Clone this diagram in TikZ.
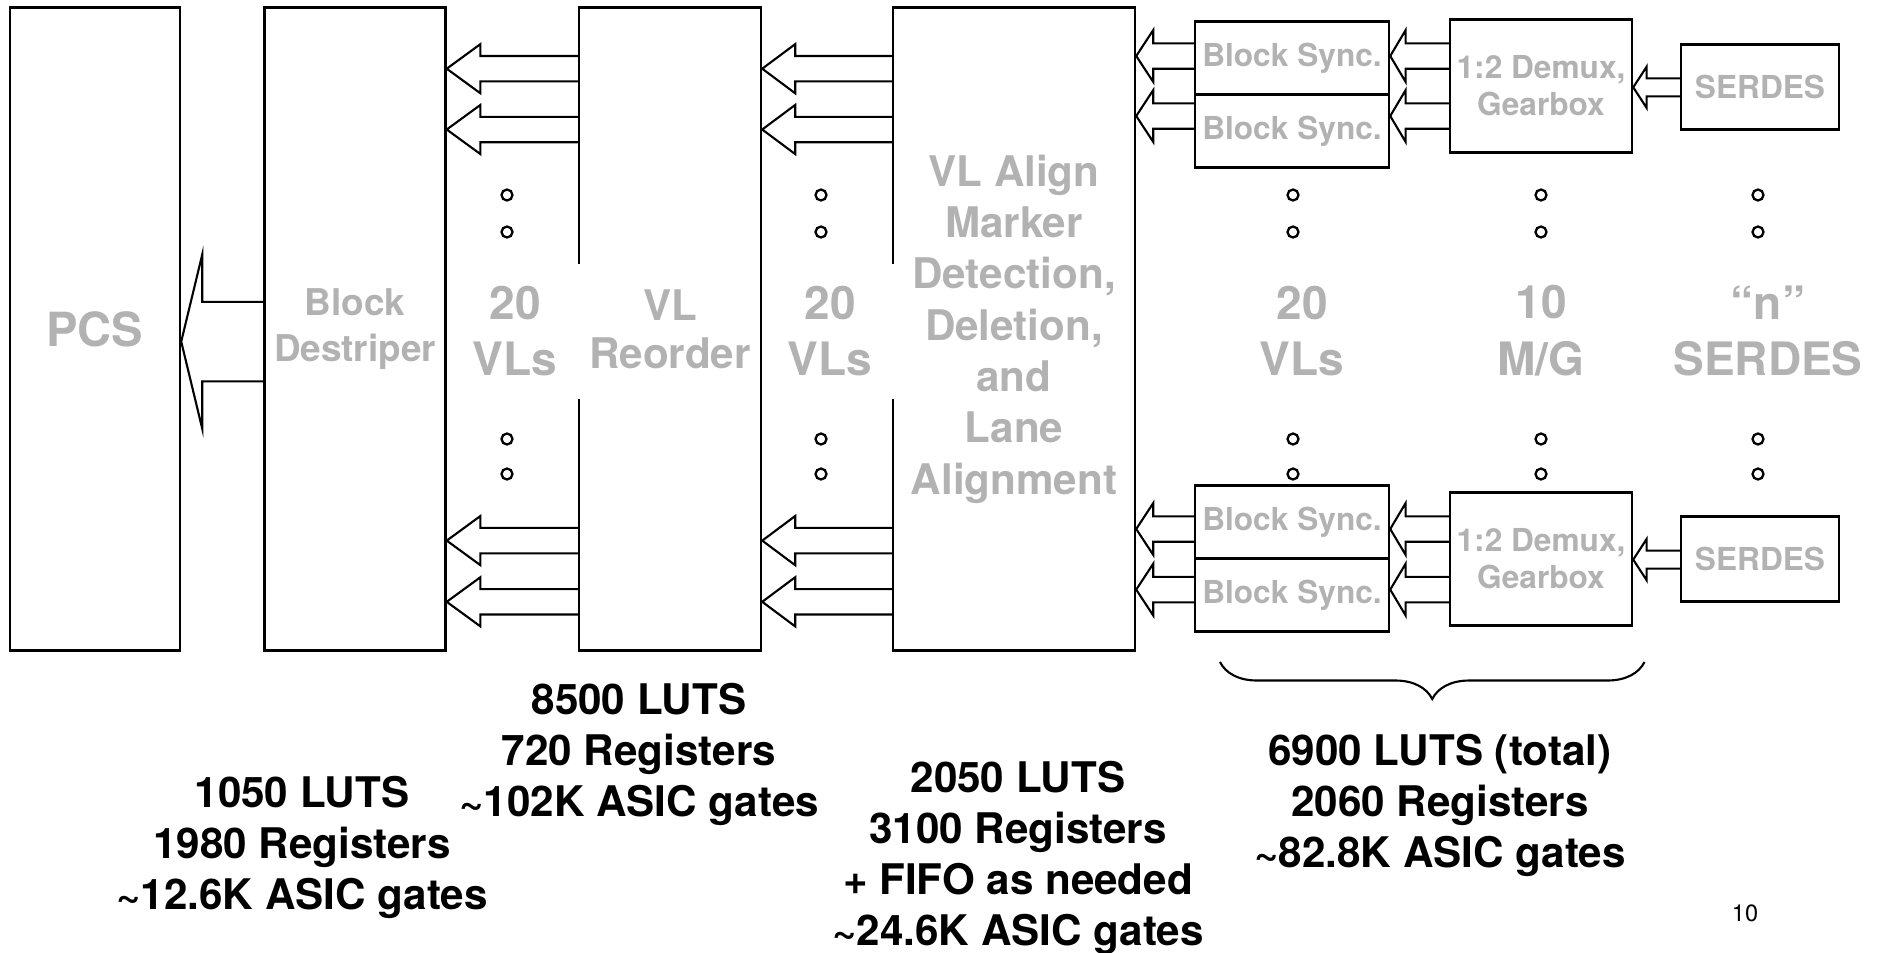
\documentclass[tikz,border=0pt]{standalone}
\usepackage{fontspec}
\setmainfont{TeX Gyre Heros}
\usetikzlibrary{calc,decorations.pathreplacing}

\definecolor{lblgray}{gray}{0.70}

\tikzset{
  box/.style={draw=black, line width=0.7pt, inner sep=0pt, text=lblgray, align=center},
  tall/.style={box, minimum height=6.43cm},
  sync/.style={box, minimum width=1.94cm, minimum height=0.73cm, font=\bfseries\fontsize{9}{10.5}\selectfont},
  demux/.style={box, minimum width=1.82cm, minimum height=1.33cm, font=\bfseries\fontsize{9}{10.5}\selectfont},
  serdes/.style={box, minimum width=1.58cm, minimum height=0.85cm, font=\bfseries\fontsize{9}{10.5}\selectfont},
  fat/.style={draw=black, line width=0.6pt, line join=miter},
  dot/.style={draw=black, fill=white, line width=0.65pt},
  count/.style={text=lblgray, align=center, fill=white, inner sep=0pt, minimum width=1.32cm, minimum height=1.35cm, font=\bfseries\fontsize{13.1}{16.2}\selectfont},
  cost/.style={text=black, align=center, font=\bfseries\fontsize{12}{14.5}\selectfont},
  brc/.style={decorate, decoration={brace, mirror, amplitude=0.37cm}, line width=0.6pt},
}

% hollow block arrow: source, target, row, half shaft, half head, head length
\newcommand{\fatarrow}[6]{%
  \draw[fat] ($(#1.west |- #3)+(0,#4)$) -- ($(#2.east |- #3)+(#6,#4)$)
    -- ($(#2.east |- #3)+(#6,#5)$) -- (#2.east |- #3)
    -- ($(#2.east |- #3)+(#6,-#5)$) -- ($(#2.east |- #3)+(#6,-#4)$)
    -- ($(#1.west |- #3)+(0,-#4)$);}

\begin{document}
\begin{tikzpicture}
  \useasboundingbox (0,0) rectangle (18.81,-9.52);

  % tall blocks
  \node[tall, minimum width=1.70cm, font=\bfseries\fontsize{13.4}{15}\selectfont] (pcs) at (0.95,-3.29) {PCS};
  \node[tall, minimum width=1.81cm, font=\bfseries\fontsize{10.5}{13}\selectfont] (dstr) at (3.55,-3.29) {Block\\Destriper};
  \node[tall, minimum width=1.82cm, font=\bfseries\fontsize{12}{13.7}\selectfont] (reord) at (6.70,-3.29) {VL\\Reorder};
  \node[tall, minimum width=2.42cm, font=\bfseries\fontsize{12}{14.6}\selectfont] (align) at (10.14,-3.29)
    {VL Align\\Marker\\Detection,\\Deletion,\\and\\Lane\\Alignment};

  % lane blocks
  \node[sync] (bsa) at (12.92,-0.58) {Block Sync.};
  \node[sync] (bsb) at (12.92,-1.31) {Block Sync.};
  \node[sync] (bsc) at (12.92,-5.22) {Block Sync.};
  \node[sync] (bsd) at (12.92,-5.95) {Block Sync.};
  \node[demux] (dmxa) at (15.41,-0.86) {1:2 Demux,\\Gearbox};
  \node[demux] (dmxb) at (15.41,-5.59) {1:2 Demux,\\Gearbox};
  \node[serdes] (sda) at (17.60,-0.87) {SERDES};
  \node[serdes] (sdb) at (17.60,-5.59) {SERDES};

  % arrow rows
  \coordinate (ra) at (0,-0.687);
  \coordinate (rb) at (0,-1.295);
  \coordinate (rc) at (0,-5.406);
  \coordinate (rd) at (0,-6.018);
  \coordinate (sa) at (0,-0.56);
  \coordinate (sb) at (0,-1.16);
  \coordinate (sc) at (0,-5.29);
  \coordinate (sd) at (0,-5.896);
  \coordinate (ta) at (0,-0.873);
  \coordinate (tb) at (0,-5.596);
  \coordinate (tp) at (0,-3.416);

  \foreach \r in {ra,rb,rc,rd} {
    \fatarrow{reord}{dstr}{\r}{0.127}{0.246}{0.337}
    \fatarrow{align}{reord}{\r}{0.127}{0.246}{0.33}
  }
  \foreach \b/\d/\r in {bsa/dmxa/sa, bsb/dmxa/sb, bsc/dmxb/sc, bsd/dmxb/sd} {
    \fatarrow{\b}{align}{\r}{0.127}{0.259}{0.17}
    \fatarrow{\d}{\b}{\r}{0.127}{0.259}{0.154}
  }
  \fatarrow{sda}{dmxa}{ta}{0.09}{0.206}{0.134}
  \fatarrow{sdb}{dmxb}{tb}{0.09}{0.206}{0.134}
  \fatarrow{dstr}{pcs}{tp}{0.398}{0.87}{0.21}

  % ellipsis dots
  \foreach \x in {5.07,8.21,12.93,15.41,17.58}
    \foreach \y in {-1.95,-2.32,-4.39,-4.74}
      \draw[dot] (\x,\y) circle (0.055);

  \node[count] (vla) at (5.15,-3.31) {20\\VLs};
  \node[count] (vlb) at (8.30,-3.31) {20\\VLs};
  \node[count] (vlc) at (13.02,-3.31) {20\\VLs};
  \node[count] (mg) at (15.41,-3.31) {10\\M/G};
  \node[count] (nser) at (17.68,-3.31) {“n”\\SERDES};

  \coordinate (bl) at (12.20,-6.62);
  \coordinate (br) at (16.445,-6.62);
  \draw[brc] (bl) -- (br);

  % resource figures
  \node[cost] (ca) at (3.02,-8.47) {1050 LUTS\\1980 Registers\\\textasciitilde12.6K ASIC gates};
  \node[cost] (cb) at (6.39,-7.54) {8500 LUTS\\720 Registers\\\textasciitilde102K ASIC gates};
  \node[cost] (cc) at (10.18,-8.58) {2050 LUTS\\3100 Registers\\+ FIFO as needed\\\textasciitilde24.6K ASIC gates};
  \node[cost] (cd) at (14.40,-8.05) {6900 LUTS (total)\\2060 Registers\\\textasciitilde82.8K ASIC gates};
  \node[font=\fontsize{6.7}{8}\selectfont] (pg) at (17.45,-9.13) {10};
\end{tikzpicture}
\end{document}
